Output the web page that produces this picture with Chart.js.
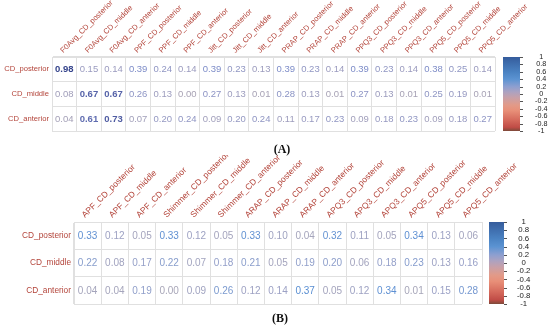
<!DOCTYPE html>
<html>
<head>
<meta charset="utf-8">
<script src="https://cdn.jsdelivr.net/npm/chart.js@4"></script>
<style>
  body { margin: 0; background: #fff; width: 550px; height: 328px; position: relative; overflow: hidden; }
  #boxA { position: absolute; left: 0; top: 0; }
  #boxB { position: absolute; left: 0; top: 155px; }
  .cap { position: absolute; font-family: "Liberation Serif", "DejaVu Serif", serif; font-weight: bold; font-size: 12px; color: #111; transform: translate(-50%, -50%); }
</style>
</head>
<body>
<canvas id="boxA" width="550" height="145"></canvas>
<canvas id="boxB" width="550" height="173"></canvas>
<div class="cap" style="left:282px; top:149px;">(A)</div>
<div class="cap" style="left:280px; top:318px;">(B)</div>
<script>
// Data

const rowLabels = ['CD_posterior', 'CD_middle', 'CD_anterior'];

const colsA = [
    'F0Avg_CD_posterior', 'F0Avg_CD_middle', 'F0Avg_CD_anterior',
    'PPF_CD_posterior', 'PPF_CD_middle', 'PPF_CD_anterior',
    'Jitt_CD_posterior', 'Jitt_CD_middle', 'Jitt_CD_anterior',
    'PRAP_CD_posterior', 'PRAP_CD_middle', 'PRAP_CD_anterior',
    'PPQ3_CD_posterior', 'PPQ3_CD_middle', 'PPQ3_CD_anterior',
    'PPQ5_CD_posterior', 'PPQ5_CD_middle', 'PPQ5_CD_anterior',
];
const aPosterior = [0.98, 0.15, 0.14, 0.39, 0.24, 0.14, 0.39, 0.23, 0.13, 0.39, 0.23, 0.14, 0.39, 0.23, 0.14, 0.38, 0.25, 0.14];
const aMiddle    = [0.08, 0.67, 0.67, 0.26, 0.13, 0.00, 0.27, 0.13, 0.01, 0.28, 0.13, 0.01, 0.27, 0.13, 0.01, 0.25, 0.19, 0.01];
const aAnterior  = [0.04, 0.61, 0.73, 0.07, 0.20, 0.24, 0.09, 0.20, 0.24, 0.11, 0.17, 0.23, 0.09, 0.18, 0.23, 0.09, 0.18, 0.27];

const colsB = [
    'APF_CD_posterior', 'APF_CD_middle', 'APF_CD_anterior',
    'Shimmer_CD_posterior', 'Shimmer_CD_middle', 'Shimmer_CD_anterior',
    'ARAP_CD_posterior', 'ARAP_CD_middle', 'ARAP_CD_anterior',
    'APQ3_CD_posterior', 'APQ3_CD_middle', 'APQ3_CD_anterior',
    'APQ5_CD_posterior', 'APQ5_CD_middle', 'APQ5_CD_anterior',
];
const bPosterior = [0.33, 0.12, 0.05, 0.33, 0.12, 0.05, 0.33, 0.10, 0.04, 0.32, 0.11, 0.05, 0.34, 0.13, 0.06];
const bMiddle    = [0.22, 0.08, 0.17, 0.22, 0.07, 0.18, 0.21, 0.05, 0.19, 0.20, 0.06, 0.18, 0.23, 0.13, 0.16];
const bAnterior  = [0.04, 0.04, 0.19, 0.00, 0.09, 0.26, 0.12, 0.14, 0.37, 0.05, 0.12, 0.34, 0.01, 0.15, 0.28];

// Colours

const labelRed = '#b3443a';
const gridGray = '#e0e0e0';
const font = '"Liberation Sans", Arial, sans-serif';

const barStops = [
    [1, '#355c9c'], [0.6, '#4a82c2'], [0.4, '#5b93d2'], [0.2, '#8d9fd0'],
    [0.05, '#ada2c0'], [-0.1, '#c8a0a8'], [-0.3, '#e29a88'], [-0.45, '#e88f78'],
    [-0.7, '#d56a5c'], [-0.9, '#c04c46'], [-1, '#7c4a3a'],
];
const numStopsA = [[0, '#a8a2b4'], [0.15, '#9a9bc0'], [0.4, '#7c8bc8'], [0.7, '#525fa5'], [1, '#33428a']];
const numStopsB = [[0, '#a8a6b8'], [0.15, '#9ba1c6'], [0.25, '#7f9bcf'], [0.35, '#5a8fd3'], [1, '#2f5fa8']];

function hex(c) {
    return [1, 3, 5].map(i => parseInt(c.slice(i, i + 2), 16));
}

function pickColor(stops, v) {
    for (let i = 1; i < stops.length; i++) {
        if (v <= stops[i][0]) {
            const [v0, c0] = stops[i - 1];
            const [v1, c1] = stops[i];
            const t = (v - v0) / (v1 - v0);
            const a = hex(c0), b = hex(c1);
            return 'rgb(' + a.map((x, k) => Math.round(x + (b[k] - x) * t)).join(',') + ')';
        }
    }
    return stops[stops.length - 1][1];
}

function makeMatrix(cols, rows) {
    const pts = [];
    rows.forEach((vals, r) => vals.forEach((v, c) => pts.push({ x: cols[c], y: rowLabels[r], v })));
    return pts;
}

// numbers in cells + colour bar
const corrPlugin = {
    id: 'corr',
    afterDatasetsDraw(chart, args, opts) {
        const ctx = chart.ctx;
        const meta = chart.getDatasetMeta(0);
        const data = chart.data.datasets[0].data;
        ctx.save();
        ctx.textAlign = 'center';
        ctx.textBaseline = 'middle';
        meta.data.forEach((pt, i) => {
            const v = data[i].v;
            ctx.font = (v >= 0.6 ? 'bold ' : '') + opts.numSize + 'px ' + font;
            ctx.fillStyle = pickColor(opts.numStops, v);
            ctx.fillText(v.toFixed(2), pt.x, pt.y + 0.5);
        });

        const cb = chart.scales.cb;
        const x0 = chart.chartArea.right + opts.barGap;
        const top = cb.getPixelForValue(1);
        const bot = cb.getPixelForValue(-1);
        const g = ctx.createLinearGradient(0, top, 0, bot);
        barStops.forEach(([val, col]) => g.addColorStop((1 - val) / 2, col));
        ctx.fillStyle = g;
        ctx.fillRect(x0, top, opts.barWidth, bot - top);
        ctx.strokeStyle = '#555';
        ctx.lineWidth = 1;
        cb.ticks.forEach(t => {
            const y = Math.round(cb.getPixelForValue(t.value)) + 0.5;
            ctx.beginPath();
            ctx.moveTo(x0 + opts.barWidth, y);
            ctx.lineTo(x0 + opts.barWidth + 3, y);
            ctx.stroke();
        });
        ctx.restore();
    }
};

function buildChart(id, cols, rows, cfg) {
    return new Chart(document.getElementById(id), {
        type: 'scatter',
        data: {
            datasets: [{ data: makeMatrix(cols, rows), pointRadius: 0, pointHoverRadius: 0 }]
        },
        plugins: [corrPlugin],
        options: {
            responsive: false,
            animation: false,
            events: [],
            layout: { padding: { top: 0, left: 0, right: 0, bottom: cfg.padBottom } },
            plugins: {
                legend: { display: false },
                tooltip: { enabled: false },
                corr: { numSize: cfg.numSize, numStops: cfg.numStops, barGap: cfg.barGap, barWidth: cfg.barWidth },
            },
            scales: {
                x: {
                    type: 'category', labels: cols, position: 'top', offset: true,
                    grid: { offset: true, color: gridGray, drawTicks: false },
                    border: { color: gridGray },
                    ticks: {
                        autoSkip: false, minRotation: 45, maxRotation: 45, padding: 2, labelOffset: cfg.labelShift,
                        color: labelRed, font: { family: font, size: cfg.colSize },
                    },
                    afterFit: s => { s.height = cfg.top; },
                },
                y: {
                    type: 'category', labels: rowLabels, offset: true,
                    grid: { offset: true, color: gridGray, drawTicks: false },
                    border: { color: gridGray },
                    ticks: { autoSkip: false, padding: 3, color: labelRed, font: { family: font, size: cfg.rowSize } },
                    afterFit: s => { s.width = cfg.left; },
                },
                cb: {
                    type: 'linear', position: 'right', min: -1, max: 1,
                    // invisible tick marks push the labels past the colour bar
                    grid: { display: true, drawOnChartArea: false, drawTicks: true, tickLength: cfg.cbShift, tickColor: 'rgba(0,0,0,0)' },
                    border: { display: false },
                    ticks: {
                        stepSize: 0.2, autoSkip: false, crossAlign: 'center', padding: 2,
                        color: '#222', font: { family: font, size: cfg.cbSize },
                        callback: v => String(Number(v.toFixed(1))),
                    },
                    afterFit: s => { s.width = cfg.right; },
                },
            },
        },
    });
}

const chartA = buildChart('boxA', colsA, [aPosterior, aMiddle, aAnterior], {
    top: 57, left: 52, right: 55, padBottom: 14, labelShift: 4,
    numSize: 9.5, numStops: numStopsA, colSize: 7.6, rowSize: 7.6,
    barGap: 8, barWidth: 17, cbShift: 38, cbSize: 7.2,
});

const chartB = buildChart('boxB', colsB, [bPosterior, bMiddle, bAnterior], {
    top: 67, left: 74, right: 68, padBottom: 24, labelShift: 3,
    numSize: 10, numStops: numStopsB, colSize: 8.5, rowSize: 8.3,
    barGap: 7, barWidth: 15, cbShift: 33, cbSize: 7.8,
});
</script>
</body>
</html>
